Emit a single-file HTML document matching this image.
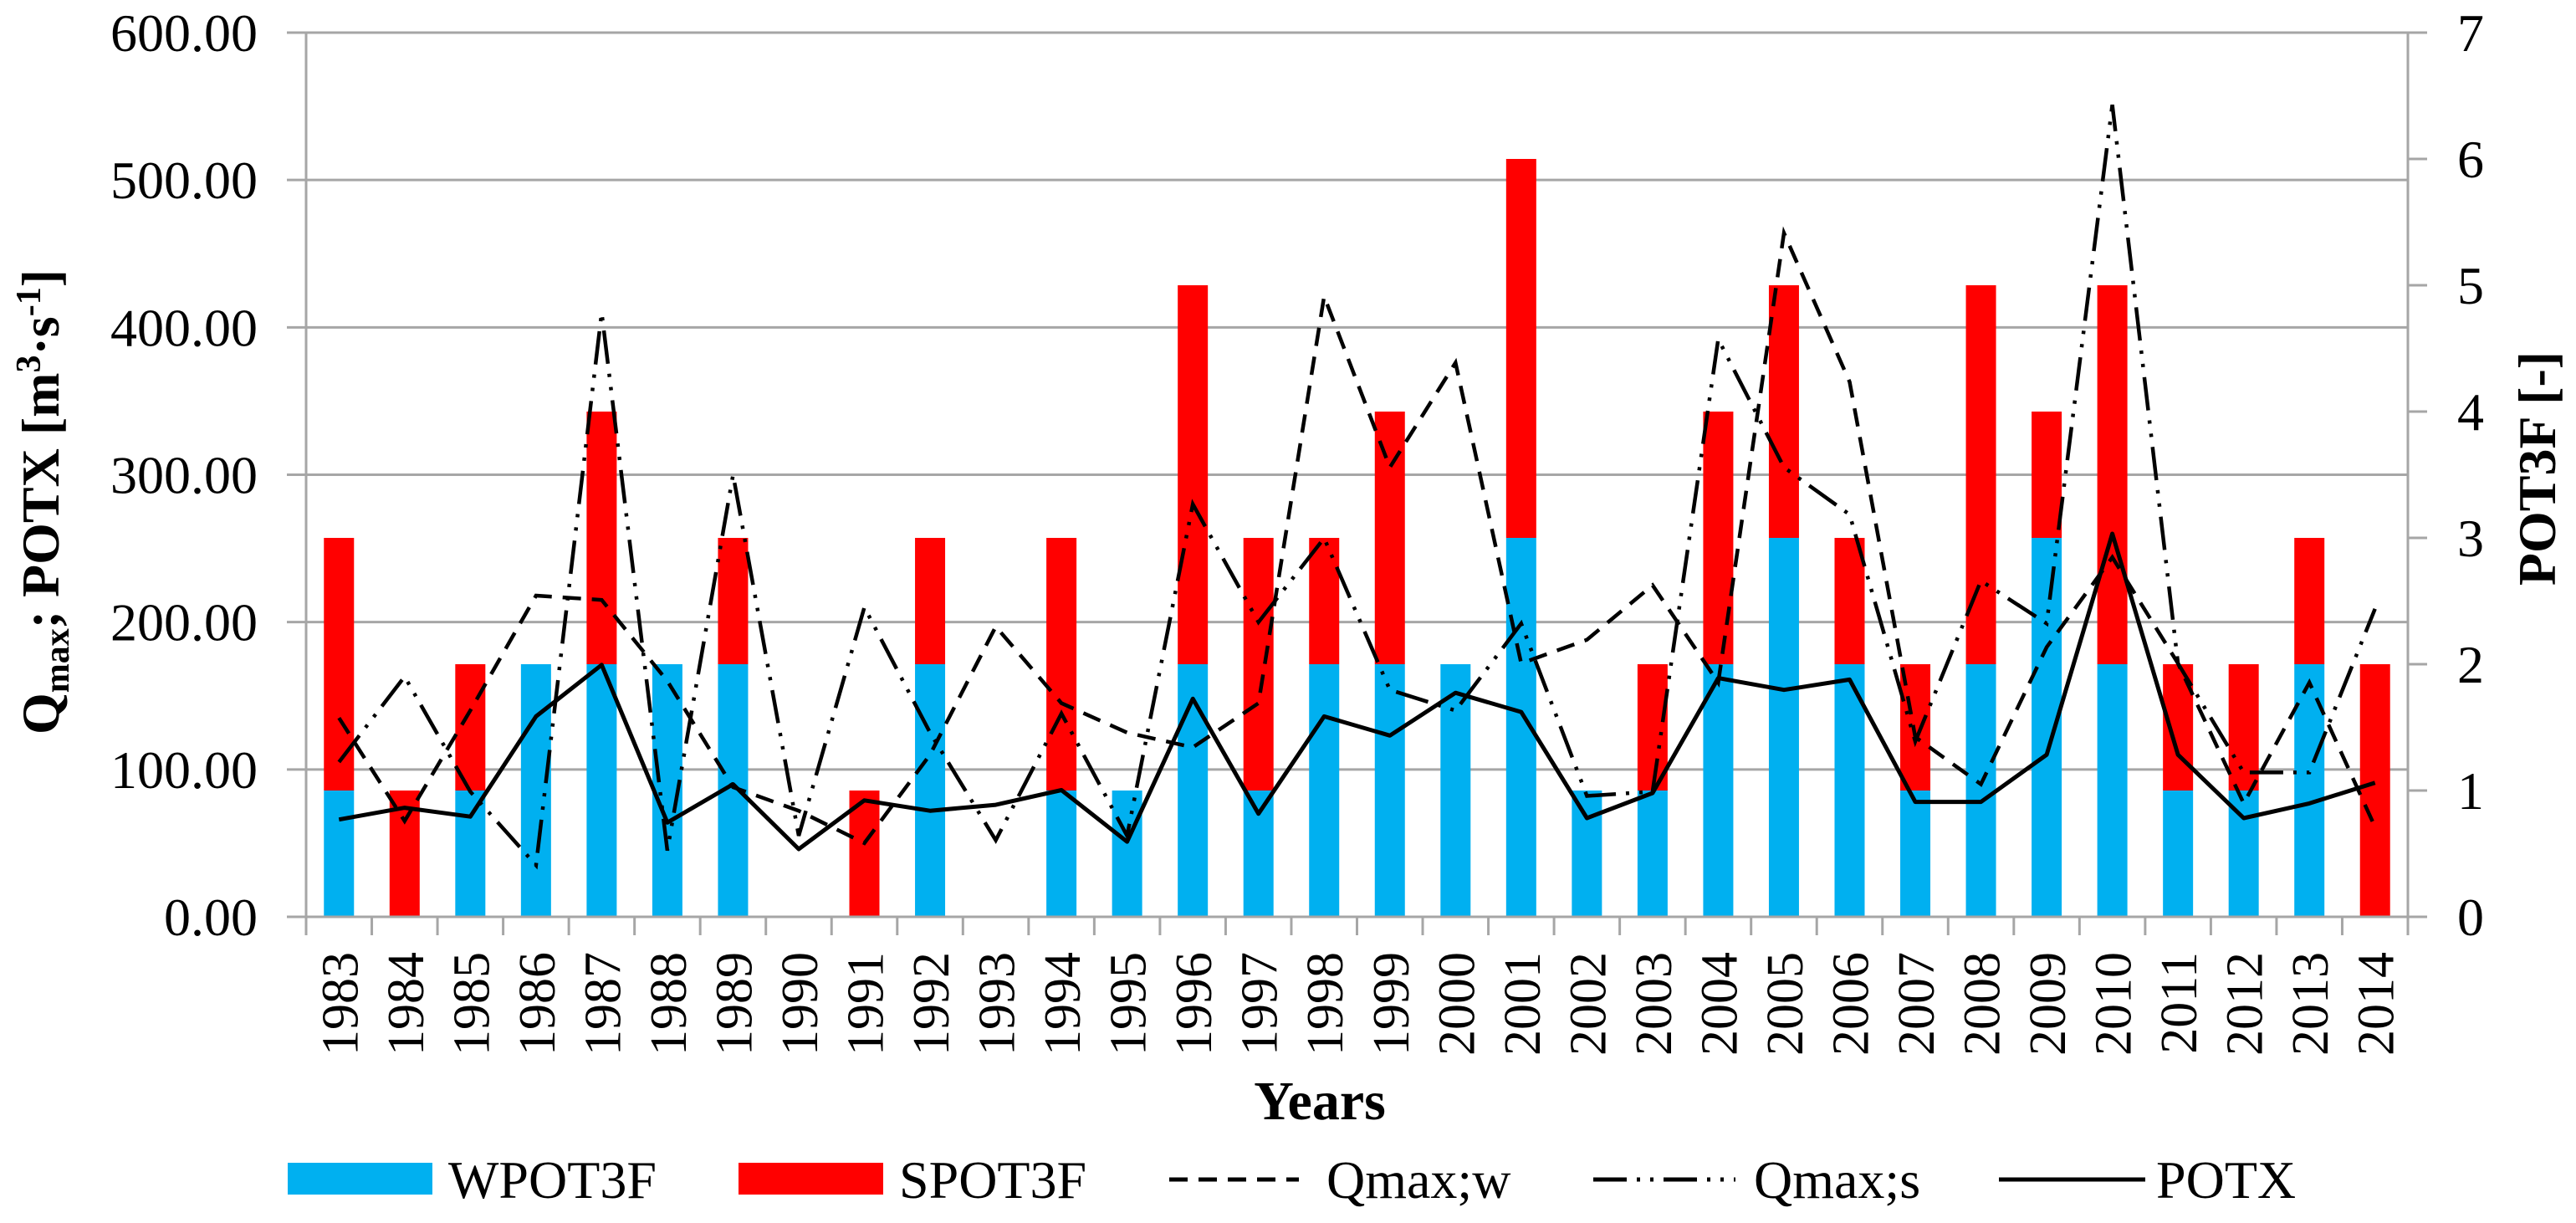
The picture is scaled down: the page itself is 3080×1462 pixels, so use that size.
<!DOCTYPE html>
<html><head><meta charset="utf-8"><style>
html,body{margin:0;padding:0;background:#fff;}
svg{display:block;font-family:"Liberation Serif",serif;}
</style></head><body>
<svg id="chart" width="3080" height="1462" viewBox="0 0 3080 1462" xmlns="http://www.w3.org/2000/svg">
<g id="grid"></g>
<g id="bars"></g>
<g id="lines"></g>
<g id="axes"></g>
<text transform="translate(70,600) rotate(-90)" text-anchor="middle" font-size="64" font-weight="bold">Q<tspan font-size="42" dy="12">max</tspan><tspan dy="-12">; POTX [m</tspan><tspan font-size="42" dy="-22">3</tspan><tspan dy="22">·s</tspan><tspan font-size="42" dy="-22">-1</tspan><tspan dy="22">]</tspan></text>
<text transform="translate(3055,560) rotate(-90)" text-anchor="middle" font-size="64" font-weight="bold">POT3F [-]</text>
<text x="1578" y="1338" text-anchor="middle" font-size="66" font-weight="bold">Years</text>
<g font-size="64">
 <rect x="344" y="1390" width="173" height="38" fill="#00b0f0"/>
 <text x="536" y="1432">WPOT3F</text>
 <rect x="883" y="1390" width="173" height="38" fill="#ff0000"/>
 <text x="1075" y="1432">SPOT3F</text>
 <line x1="1398" y1="1410" x2="1553" y2="1410" stroke="#000" stroke-width="5" stroke-dasharray="22,13"/>
 <text x="1586" y="1432">Qmax;w</text>
 <line x1="1905" y1="1410" x2="2075" y2="1410" stroke="#000" stroke-width="5" stroke-dasharray="40,12,4,12,4,12"/>
 <text x="2097" y="1432">Qmax;s</text>
 <line x1="2390" y1="1410" x2="2565" y2="1410" stroke="#000" stroke-width="5"/>
 <text x="2578" y="1432">POTX</text>
</g>
</svg>
<script>
const years = [1983,1984,1985,1986,1987,1988,1989,1990,1991,1992,1993,1994,1995,1996,1997,1998,1999,2000,2001,2002,2003,2004,2005,2006,2007,2008,2009,2010,2011,2012,2013,2014];
const wpot3f = [1,0,1,2,2,2,2,0,0,2,0,1,1,2,1,2,2,2,3,1,1,2,3,2,1,2,3,2,1,1,2,0];
const spot3f = [2,1,1,0,2,0,1,0,1,1,0,2,0,3,2,1,2,0,3,0,1,2,2,1,1,3,1,3,1,1,1,2];
const qmaxW = [135,65,140,218,215,160,88,72,50,110,197,145,125,115,145,421,305,376,172,188,225,159,464,363,122,90,183,244,172,77,159,61];
const qmaxS = [105,163,85,35,410,45,300,55,210,125,52,138,55,280,200,257,154,140,199,82,85,392,305,273,119,228,199,551,172,98,98,209];
const potx = [66,74,68,136,171,64,90,46,79,72,76,86,51,148,70,136,123,152,139,67,84,162,154,161,78,78,110,260,110,67,77,91];
const leftTicks = [0,100,200,300,400,500,600];
const rightTicks = [0,1,2,3,4,5,6,7];

const NS = "http://www.w3.org/2000/svg";
const X0 = 366, X1 = 2879, Y0 = 1096, Y1 = 39;
const bw = (X1 - X0) / years.length;
const xC = i => X0 + (i + 0.5) * bw;
const yL = v => Y0 - v * (Y0 - Y1) / 600;
const yR = v => Y0 - v * (Y0 - Y1) / 7;
function mk(tag, attrs, parent, txt) {
  const e = document.createElementNS(NS, tag);
  for (const k in attrs) e.setAttribute(k, attrs[k]);
  if (txt !== undefined) e.textContent = txt;
  parent.appendChild(e);
  return e;
}
const grid = document.getElementById('grid');
const axes = document.getElementById('axes');
const bars = document.getElementById('bars');
const lines = document.getElementById('lines');

leftTicks.forEach(t => {
  const y = yL(t);
  if (t > 0) {
    const g = mk('line', {x1: X0, x2: X1, y1: y, y2: y, stroke: '#a6a6a6', 'stroke-width': 3}, grid);
    
    
  }
  const tk = mk('line', {x1: X0 - 23, x2: X0, y1: y, y2: y, stroke: '#a6a6a6', 'stroke-width': 3}, axes);
  
  
  const lb = mk('text', {x: 308, y: y + 22, 'text-anchor': 'end', 'font-size': 64}, axes, t.toFixed(2));
  
  
});
rightTicks.forEach(t => {
  const y = yR(t);
  const tk = mk('line', {x1: X1, x2: X1 + 23, y1: y, y2: y, stroke: '#a6a6a6', 'stroke-width': 3}, axes);
  
  
  const lb = mk('text', {x: 2938, y: y + 22, 'font-size': 64}, axes, String(t));
  
  
});
// axis lines
let a = mk('line', {x1: X0, x2: X0, y1: Y1, y2: Y0, stroke: '#a6a6a6', 'stroke-width': 3}, axes);


a = mk('line', {x1: X1, x2: X1, y1: Y1, y2: Y0, stroke: '#a6a6a6', 'stroke-width': 3}, axes);


a = mk('line', {x1: X0 - 23, x2: X1, y1: Y0, y2: Y0, stroke: '#a6a6a6', 'stroke-width': 3}, axes);


for (let i = 0; i <= years.length; i++) {
  const x = X0 + i * bw;
  const tk = mk('line', {x1: x, x2: x, y1: Y0, y2: Y0 + 22, stroke: '#a6a6a6', 'stroke-width': 3}, axes);
  
  
}
years.forEach((yr, i) => {
  const t = mk('text', {transform: `translate(${xC(i) + 22},1138) rotate(-90)`, 'text-anchor': 'end', 'font-size': 62}, axes, String(yr));
  
  
});
// bars
const barW = 36;
years.forEach((yr, i) => {
  const x = xC(i) - barW / 2;
  if (wpot3f[i] > 0) {
    const r = mk('rect', {x: x, y: yR(wpot3f[i]), width: barW, height: Y0 - yR(wpot3f[i]), fill: '#00b0f0'}, bars);
    
    
  }
  if (spot3f[i] > 0) {
    const top = yR(wpot3f[i] + spot3f[i]);
    const r = mk('rect', {x: x, y: top, width: barW, height: yR(wpot3f[i]) - top, fill: '#ff0000'}, bars);
    
    
  }
});
function pts(arr) { return arr.map((v, i) => xC(i).toFixed(1) + ',' + yL(v).toFixed(1)).join(' '); }
let l = mk('polyline', {points: pts(qmaxW), fill: 'none', stroke: '#000', 'stroke-width': 4.5, 'stroke-dasharray': '22,13'}, lines);


l = mk('polyline', {points: pts(qmaxS), fill: 'none', stroke: '#000', 'stroke-width': 4.5, 'stroke-dasharray': '40,12,4,12,4,12'}, lines);


l = mk('polyline', {points: pts(potx), fill: 'none', stroke: '#000', 'stroke-width': 5, 'stroke-linejoin': 'round'}, lines);


</script>
</body></html>
